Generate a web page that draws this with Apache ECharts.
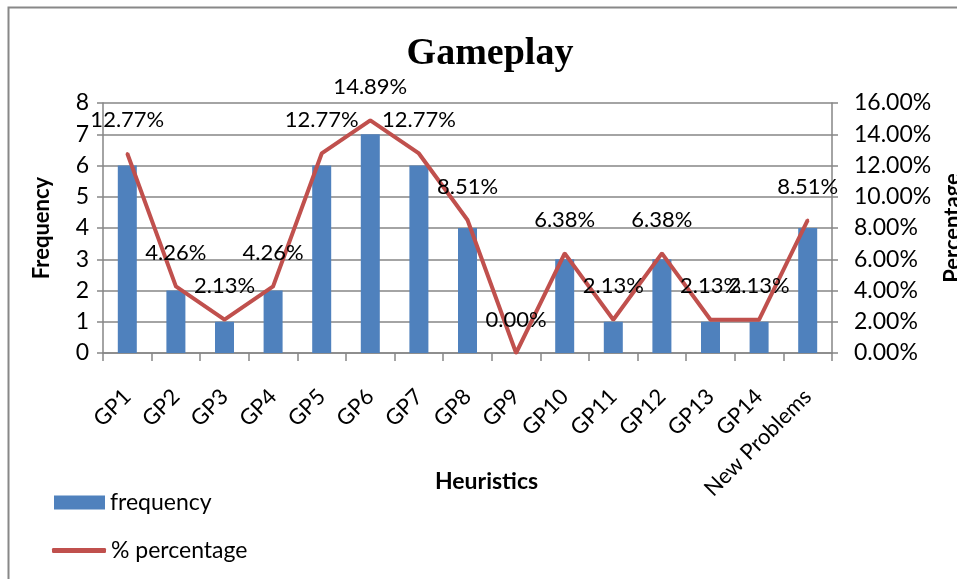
<!DOCTYPE html>
<html><head><meta charset="utf-8">
<script src="https://cdn.jsdelivr.net/npm/echarts@6/dist/echarts.min.js"></script>
<style>html,body{margin:0;padding:0;background:#fff}#c{width:957px;height:579px}</style>
</head><body><div id="c"></div>
<script>
const categories = ['GP1','GP2','GP3','GP4','GP5','GP6','GP7','GP8','GP9','GP10','GP11','GP12','GP13','GP14','New Problems'];
const frequency = [6,2,1,2,6,7,6,4,0,3,1,3,1,1,4];
const percentage = [12.77,4.26,2.13,4.26,12.77,14.89,12.77,8.51,0.00,6.38,2.13,6.38,2.13,2.13,8.51];
const freqTicks = {min:0,max:8,interval:1};
const pctTicks = {min:0,max:16,interval:2};

const F = 'Lato, "Open Sans", sans-serif';
const gridColor = '#868686';
const chart = echarts.init(document.getElementById('c'));
chart.setOption({
  animation:false,
  backgroundColor:'#fff',
  title:{text:'Gameplay',left:485,textAlign:'center',top:30,textStyle:{fontFamily:'"Liberation Serif", serif',fontWeight:'bold',fontSize:38,color:'#000'}},
  graphic:[{type:'rect',shape:{x:8.5,y:7.5,width:1200,height:1200},style:{fill:null,stroke:'#888',lineWidth:2},silent:true}],
  legend:[
    {data:[{name:'frequency',icon:'rect'}],orient:'vertical',left:49,top:486,itemWidth:51,itemHeight:14,itemGap:10,textStyle:{fontFamily:F,fontSize:23,color:'#000'}},
    {data:[{name:'% percentage',icon:'roundRect'}],orient:'vertical',left:47,top:534,itemWidth:54,itemHeight:5,textStyle:{fontFamily:F,fontSize:23,color:'#000'}}
  ],
  grid:{left:103,right:125,top:103,bottom:226,containLabel:false,outerBoundsMode:'none'},
  xAxis:[
    {type:'category',data:categories,
      axisLine:{lineStyle:{color:gridColor,width:1.5}},
      axisTick:{show:true,interval:0,length:8,lineStyle:{color:gridColor,width:1.5}},
      axisLabel:{rotate:45,interval:0,margin:40,fontFamily:F,fontSize:22,color:'#000'}},
    {type:'category',data:categories,position:'bottom',name:'Heuristics',nameLocation:'middle',nameGap:117,
      nameTextStyle:{fontFamily:F,fontSize:23,fontWeight:'bold',color:'#000',padding:[0,0,0,38]},
      axisLine:{show:false},axisTick:{show:false},axisLabel:{show:false},splitLine:{show:false}}
  ],
  yAxis:[
    {type:'value',min:freqTicks.min,max:freqTicks.max,interval:freqTicks.interval,name:'Frequency',nameLocation:'middle',nameRotate:90,nameGap:50,
      nameTextStyle:{fontFamily:F,fontSize:22,fontWeight:'bold',color:'#000'},
      axisLine:{show:true,lineStyle:{color:gridColor,width:1.5}},
      axisTick:{show:true,length:6,lineStyle:{color:gridColor,width:1.5}},
      splitLine:{show:true,lineStyle:{color:gridColor,width:1.5}},
      axisLabel:{margin:14,fontFamily:F,fontSize:23,color:'#000'}},
    {type:'value',min:pctTicks.min,max:pctTicks.max,interval:pctTicks.interval,position:'right',name:'Percentage',nameLocation:'middle',nameRotate:90,nameGap:108,
      nameTextStyle:{fontFamily:F,fontSize:22,fontWeight:'bold',color:'#000'},
      axisLine:{show:true,lineStyle:{color:gridColor,width:1.5}},
      axisTick:{show:true,length:6,lineStyle:{color:gridColor,width:1.5}},
      splitLine:{show:false},
      axisLabel:{margin:22,fontFamily:F,fontSize:23,color:'#000',formatter:v=>v.toFixed(2)+'%'}}
  ],
  series:[
    {name:'frequency',type:'bar',data:frequency,barWidth:19,itemStyle:{color:'#4F81BD'},xAxisIndex:0,yAxisIndex:0},
    {name:'% percentage',type:'line',data:percentage,xAxisIndex:0,yAxisIndex:1,symbol:'circle',symbolSize:3,
      lineStyle:{color:'#C0504D',width:4},itemStyle:{color:'#C0504D'},
      label:{show:true,position:'top',distance:21,fontFamily:F,fontSize:22,color:'#000',formatter:p=>p.value.toFixed(2)+'%'}}
  ]
});
</script></body></html>
